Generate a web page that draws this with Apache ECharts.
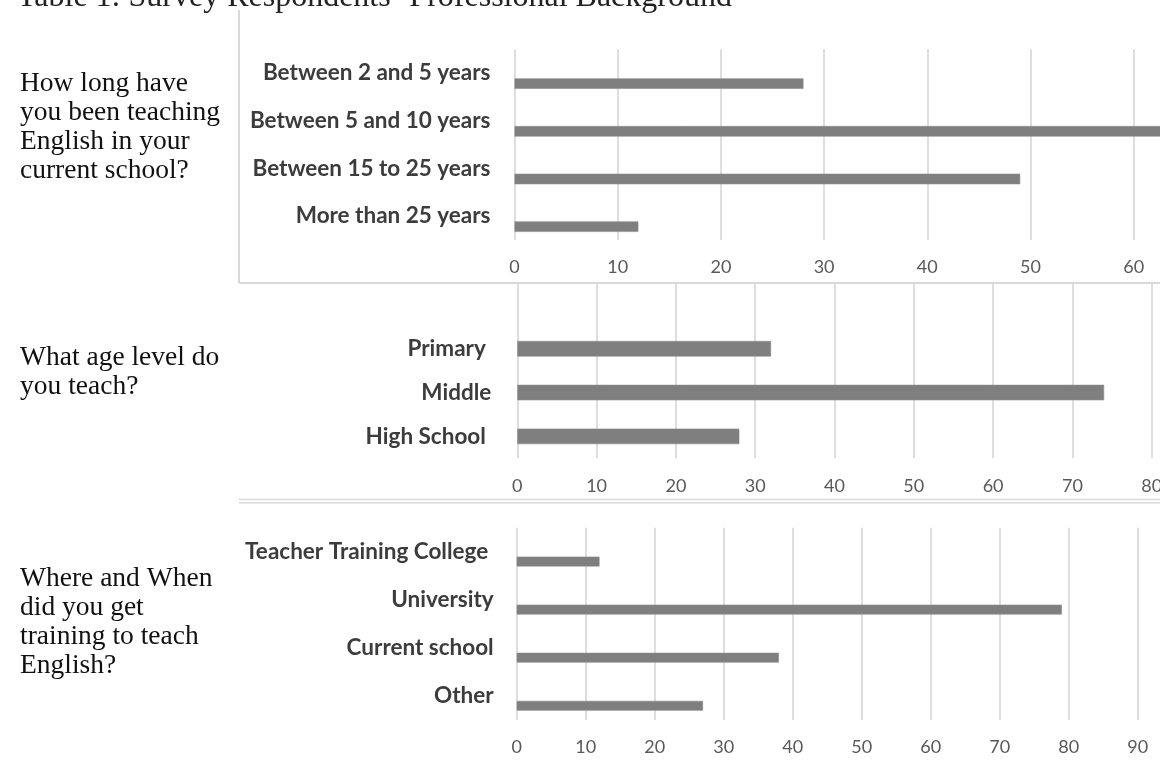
<!DOCTYPE html>
<html>
<head>
<meta charset="utf-8">
<script src="https://cdn.jsdelivr.net/npm/echarts@6/dist/echarts.min.js"></script>
<style>
  html, body { margin: 0; padding: 0; background: #ffffff; }
  #chart { width: 1160px; height: 765px; }
</style>
</head>
<body>
<div id="chart"></div>
<script>
// ---- data ----
const heading = "Table 1: Survey Respondents\u2019 Professional Background";

const questionTenure = "How long have\nyou been teaching\nEnglish in your\ncurrent school?";
const questionLevel = "What age level do\nyou teach?";
const questionTraining = "Where and When\ndid you get\ntraining to teach\nEnglish?";

const tenureCategories = ["Between 2 and 5 years", "Between 5 and 10 years", "Between 15 to 25 years", "More than 25 years"];
const tenureValues = [28, 66, 49, 12];
const tenureAxisMax = 70;

const levelCategories = ["", "Primary ", "Middle", "High School "];
const levelValues = ["-", 32, 74, 28];
const levelAxisMax = 80;

const trainingCategories = ["Teacher Training College ", "University", "Current school", "Other"];
const trainingValues = [12, 79, 38, 27];
const trainingAxisMax = 100;

const tickStep = 10;

// ---- styling ----
const BAR = "#7f7f7f";
const GRIDLINE = "#d6d6d6";
const FRAME = "#d9d9d9";
const SANS = "Lato, 'Open Sans', sans-serif";
const SERIF = "'Liberation Serif', 'DejaVu Serif', serif";

// One panel per survey question: grid box, axis ranges, label margins.
const panels = [
  { cats: tenureCategories, vals: tenureValues, max: tenureAxisMax,
    left: 514.5, top: 49.3, height: 190.7, unit: 10.32,
    labelGap: 24, tickGap: 18, barWidth: 10.5, shifted: true },
  { cats: levelCategories, vals: levelValues, max: levelAxisMax,
    left: 517.3, top: 283, height: 175.3, unit: 7.93,
    labelGap: 26, tickGap: 19, barWidth: 15.5, shifted: false },
  { cats: trainingCategories, vals: trainingValues, max: trainingAxisMax,
    left: 516.7, top: 527.7, height: 192.3, unit: 6.9,
    labelGap: 23, tickGap: 18, barWidth: 9.8, shifted: true }
];

const grids = [], xAxes = [], yAxes = [], series = [];

panels.forEach((p, i) => {
  grids.push({
    left: p.left, top: p.top, height: p.height, width: p.unit * p.max,
    containLabel: false, outerBoundsMode: "none"
  });
  xAxes.push({
    gridIndex: i, type: "value", min: 0, max: p.max, interval: tickStep,
    axisLine: { show: false }, axisTick: { show: false },
    splitLine: { show: true, lineStyle: { color: GRIDLINE, width: 1.6 } },
    axisLabel: { margin: p.tickGap, color: "#595959", fontSize: 18, fontFamily: SANS }
  });
  yAxes.push({
    gridIndex: i, type: "category", inverse: true, data: p.cats,
    axisLine: { show: false }, axisTick: { show: false }, splitLine: { show: false },
    axisLabel: { margin: p.labelGap, color: "#3c3c3c", fontSize: 22.5, fontWeight: "bold", fontFamily: SANS }
  });
  if (p.shifted) {
    // empty companion series so the visible bar sits in the lower half of each band
    series.push({
      type: "bar", xAxisIndex: i, yAxisIndex: i,
      data: p.cats.map(() => "-"), barWidth: p.barWidth, barGap: "100%", silent: true
    });
  }
  series.push({
    type: "bar", xAxisIndex: i, yAxisIndex: i, data: p.vals,
    barWidth: p.barWidth, barGap: "100%", silent: true,
    itemStyle: { color: BAR, borderColor: "#8c8c8c", borderWidth: 0.6 }
  });
});

const questionText = (text, top) => ({
  type: "text", left: 20, top: top, silent: true,
  style: { text: text, font: "27.5px " + SERIF, fill: "#111111", lineHeight: 29 }
});

const chart = echarts.init(document.getElementById("chart"), null, { renderer: "canvas" });
chart.setOption({
  animation: false,
  backgroundColor: "#ffffff",
  grid: grids,
  xAxis: xAxes,
  yAxis: yAxes,
  series: series,
  graphic: [
    { type: "text", left: 17, top: -18, silent: true,
      style: { text: heading, font: "32px " + SERIF, fill: "#222222" } },
    questionText(questionTenure, 69),
    questionText(questionLevel, 343),
    questionText(questionTraining, 564),
    // frame lines between the question blocks
    { type: "line", silent: true, shape: { x1: 239, y1: 10, x2: 239, y2: 283 },
      style: { stroke: FRAME, lineWidth: 2 } },
    { type: "line", silent: true, shape: { x1: 239, y1: 283, x2: 1160, y2: 283 },
      style: { stroke: FRAME, lineWidth: 2 } },
    { type: "line", silent: true, shape: { x1: 239, y1: 499.5, x2: 1160, y2: 499.5 },
      style: { stroke: FRAME, lineWidth: 1.5 } },
    { type: "line", silent: true, shape: { x1: 239, y1: 502.7, x2: 1160, y2: 502.7 },
      style: { stroke: FRAME, lineWidth: 1.5 } }
  ]
});
</script>
</body>
</html>
